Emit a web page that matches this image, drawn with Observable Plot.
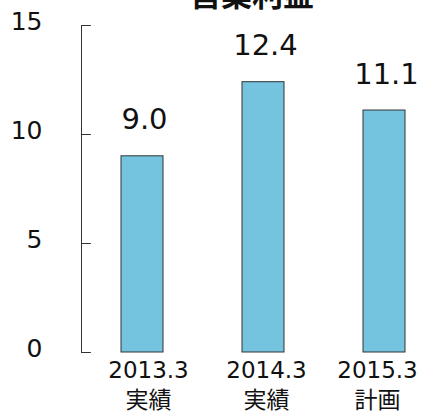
<!DOCTYPE html>
<html>
<head>
<meta charset="utf-8">
<script src="https://cdn.jsdelivr.net/npm/d3@7"></script>
<script src="https://cdn.jsdelivr.net/npm/@observablehq/plot@0.6"></script>
<style>
  html, body { margin: 0; padding: 0; background: #fff; }
  #chart svg { display: block; }
</style>
</head>
<body>
<div id="chart"></div>
<script>
// 営業利益 (operating profit), by fiscal year
const title = "営業利益";
const periods = ["2013.3", "2014.3", "2015.3"];
const kinds = ["実績", "実績", "計画"];
const profits = [9.0, 12.4, 11.1];
const yTicks = [0, 5, 10, 15];

const rows = periods.map((p, i) => ({period: p, kind: kinds[i], value: profits[i]}));

const font = "'DejaVu Sans', 'Noto Sans CJK JP', sans-serif";

// small horizontal nudges for the category labels so the last one stays inside
const labelNudge = [6, 3, -7];

// short horizontal stroke pointing into the plot
const tickShape = {
  draw(context, l) {
    context.moveTo(0, 0);
    context.lineTo(0, -l);
  }
};

const categoryLabels = rows.map((r, i) =>
  Plot.text([r], {
    x: "period",
    frameAnchor: "bottom",
    text: d => `${d.period}\n${d.kind}`,
    lineAnchor: "top",
    lineHeight: 1.3,
    dy: 4,
    dx: labelNudge[i],
    fontSize: 23,
    fill: "#111"
  })
);

const chart = Plot.plot({
  width: 422,
  height: 413,
  marginLeft: 81,
  marginRight: 0,
  marginTop: 25,
  marginBottom: 61,
  style: {fontFamily: font, color: "#111", background: "#fff"},
  x: {domain: periods, range: [121, 405], paddingInner: 0.653, paddingOuter: 0, axis: null},
  y: {domain: [0, 15]},
  marks: [
    // tick labels on the left
    Plot.axisY({ticks: yTicks, tickSize: 0, tickPadding: 39, fontSize: 25, dy: -4, label: null}),
    // inward tick marks
    Plot.vector(yTicks, {y: d => d, frameAnchor: "left", length: 9, rotate: 90, anchor: "start", shape: tickShape, stroke: "#333", strokeWidth: 1}),
    Plot.frame({anchor: "left", stroke: "#333"}),
    Plot.barY(rows, {x: "period", y: "value", fill: "#74c4e0", stroke: "#333", strokeWidth: 1}),
    Plot.text(rows, {x: "period", y: "value", text: d => d.value.toFixed(1), lineAnchor: "bottom", dy: -27, dx: 2, fontSize: 29, fill: "#111"}),
    ...categoryLabels,
    Plot.text([title], {frameAnchor: "top", lineAnchor: "bottom", dy: -20, fontSize: 31, fontWeight: "bold", fill: "#111"})
  ]
});

document.getElementById("chart").appendChild(chart);
</script>
</body>
</html>
